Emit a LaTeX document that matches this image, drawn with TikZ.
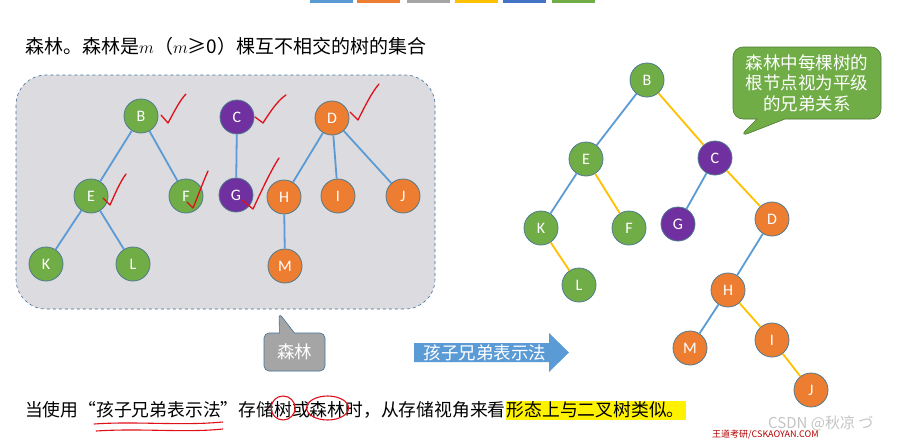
\documentclass[tikz,border=0pt]{standalone}
\usepackage{fontspec}
\setmainfont{Carlito}
\newfontfamily\cjk{Noto Sans CJK SC}
\usetikzlibrary{shapes.callouts}
\definecolor{barblue}{HTML}{5B9BD5}
\definecolor{barorange}{HTML}{ED7D31}
\definecolor{bargray}{HTML}{A5A5A5}
\definecolor{baryellow}{HTML}{FFC000}
\definecolor{bardblue}{HTML}{4472C4}
\definecolor{bargreen}{HTML}{70AD47}
\definecolor{npurple}{HTML}{7030A0}
\definecolor{nborder}{HTML}{4F7A8F}
\definecolor{boxfill}{HTML}{DCDBDF}
\definecolor{boxline}{HTML}{41719C}
\definecolor{inkred}{HTML}{E0101A}
\definecolor{wmgray}{HTML}{C4C4C4}
\tikzset{
  tnode/.style={circle, minimum size=34pt, inner sep=0pt, draw=nborder, line width=0.8pt,
     text=white, font=\fontsize{16}{16}\selectfont},
  gn/.style={tnode, fill=bargreen},
  pn/.style={tnode, fill=npurple},
  on/.style={tnode, fill=barorange},
  bl/.style={draw=barblue, line width=1.8pt},
  yl/.style={draw=baryellow, line width=1.8pt},
  tick/.style={draw=inkred, line width=1.3pt, line cap=round, line join=round},
  ink/.style={draw=inkred, line width=1.1pt, line cap=round},
  cjktext/.style={font=\cjk\fontsize{17.5}{21}\selectfont},
  seg/.style={font=\cjk\fontsize{17.8}{21}\selectfont, inner sep=0pt, outer sep=0pt, anchor=base west, text height=15pt, text depth=3pt}
}
\begin{document}
\begin{tikzpicture}[x=1pt,y=-1pt]
\useasboundingbox (0,0) rectangle (901,439);
\fill[white] (0,0) rectangle (901,439);
% top colour bars
\fill[barblue]   (310,0) rectangle (353,3);
\fill[barorange] (357,0) rectangle (400,3);
\fill[bargray]   (407,0) rectangle (450,3);
\fill[baryellow] (455,0) rectangle (498,3);
\fill[bardblue]  (503,0) rectangle (546,3);
\fill[bargreen]  (552,0) rectangle (595,3);
% title
\node[anchor=west, inner sep=0pt, font=\cjk\fontsize{19}{22}\selectfont] (title) at (25,46)
  {森林。森林是$m$（$m$≥0）棵互不相交的树的集合};
% forest box
\draw[fill=boxfill, draw=boxline, dashed, line width=0.6pt, rounded corners=30pt]
  (16,75) rectangle (435,309);
% left forest
\node[gn] (lB) at (141,116) {B};
\node[pn] (lC) at (237,117) {C};
\node[on] (lD) at (332,118) {D};
\node[gn] (lE) at (91,196) {E};
\node[gn] (lF) at (186,196) {F};
\node[pn] (lG) at (236,195) {G};
\node[on] (lH) at (284,197) {H};
\node[on] (lI) at (338,196) {I};
\node[on] (lJ) at (403,196) {J};
\node[gn] (lK) at (46,264) {K};
\node[gn] (lL) at (133,264) {L};
\node[on] (lM) at (285,266) {M};
\path[bl] (lB) -- (lE);
\path[bl] (lB) -- (lF);
\path[bl] (lE) -- (lK);
\path[bl] (lE) -- (lL);
\path[bl] (lC) -- (lG);
\path[bl] (lD) -- (lH);
\path[bl] (lD) -- (lI);
\path[bl] (lD) -- (lJ);
\path[bl] (lH) -- (lM);
% red ticks
\draw[tick] (161,115) -- (168,123) .. controls (174,112) and (180,100) .. (186,94);
\draw[tick] (255,117) -- (263,123) .. controls (270,112) and (278,100) .. (286,95);
\draw[tick] (350,112) -- (358,120) .. controls (365,106) and (372,92) .. (379,84);
\draw[tick] (103,198) -- (110,205) .. controls (115,194) and (120,182) .. (126,174);
\draw[tick] (187,202) -- (193,208) .. controls (198,196) and (203,182) .. (208,171);
\draw[tick] (242,200) -- (253,209) .. controls (261,192) and (270,172) .. (279,158);
% gray callout
\node[rectangle callout, fill=bargray, draw=boxline, line width=0.6pt, rounded corners=5pt,
  minimum width=61pt, minimum height=38pt, inner sep=0pt, text=white,
  callout absolute pointer={(279,313)}, callout pointer width=15pt, cjktext]
  (forestlabel) at (294.5,352) {森林};
% blue arrow
\coordinate (a1) at (414,343);
\coordinate (a2) at (549,343);
\coordinate (a3) at (549,333);
\coordinate (a4) at (569,352.5);
\coordinate (a5) at (549,372);
\coordinate (a6) at (549,362);
\coordinate (a7) at (414,362);
\fill[barblue] (a1) -- (a2) -- (a3) -- (a4) -- (a5) -- (a6) -- (a7) -- cycle;
\node[text=white, cjktext, inner sep=0pt] (arrowlabel) at (485,352.5) {孩子兄弟表示法};
% green callout
\node[rectangle callout, fill=bargreen, draw=bargreen!70!black, line width=0.6pt, rounded corners=10pt,
  minimum width=148pt, minimum height=72pt, inner sep=0pt, text=white, align=center,
  callout absolute pointer={(739,137)}, callout pointer width=28pt,
  font=\cjk\fontsize{17.5}{20.5}\selectfont]
  (note) at (807,83) {森林中每棵树的\\根节点视为平级\\的兄弟关系};
% right binary tree
\node[gn] (rB) at (647,80) {B};
\node[gn] (rE) at (586,159) {E};
\node[pn] (rC) at (715,158) {C};
\node[gn] (rK) at (541,228) {K};
\node[gn] (rF) at (629,228) {F};
\node[pn] (rG) at (678,224) {G};
\node[on] (rD) at (772,219) {D};
\node[gn] (rL) at (579,285) {L};
\node[on] (rH) at (728,290) {H};
\node[on] (rM) at (690,348) {M};
\node[on] (rI) at (772,340) {I};
\node[on] (rJ) at (811,390) {J};
\path[bl] (rB) -- (rE);
\path[yl] (rB) -- (rC);
\path[bl] (rE) -- (rK);
\path[yl] (rE) -- (rF);
\path[yl] (rK) -- (rL);
\path[bl] (rC) -- (rG);
\path[yl] (rC) -- (rD);
\path[bl] (rD) -- (rH);
\path[bl] (rH) -- (rM);
\path[yl] (rH) -- (rI);
\path[yl] (rI) -- (rJ);
% bottom sentence, set in segments
\node[seg] (s1) at (25,416) {当使用“};
\node[seg] (s2) at (s1.base east) {孩子兄弟表示法};
\node[seg] (s3) at (s2.base east) {”存储};
\node[seg] (s4) at (s3.base east) {树};
\node[seg] (s5) at (s4.base east) {或};
\node[seg] (s6) at (s5.base east) {森林};
\node[seg] (s7) at (s6.base east) {时，从存储视角来看};
\node[seg, fill=yellow, inner xsep=1pt, text depth=4pt] (s8) at (s7.base east) {形态上与二叉树类似。\hspace{9pt}};
% red annotations
\draw[ink] ([xshift=-2pt,yshift=-5pt]s2.south west) .. controls ([xshift=40pt,yshift=-2pt]s2.south west) and ([xshift=-40pt,yshift=-7pt]s2.south east) .. ([xshift=2pt,yshift=-3pt]s2.south east);
\draw[ink] ([yshift=-12pt]s2.south west) .. controls ([xshift=45pt,yshift=-9pt]s2.south west) and ([xshift=-35pt,yshift=-14pt]s2.south east) .. ([xshift=2pt,yshift=-10pt]s2.south east);
\draw[ink] ([yshift=2pt]s4.center) ellipse [x radius=12pt, y radius=12pt];
\draw[ink] ([yshift=2pt]s6.center) ellipse [x radius=21pt, y radius=12pt];
% watermark
\node[anchor=west, inner sep=0pt, text=wmgray, font=\cjk\fontsize{15}{18}\selectfont]
  (wm) at (768,423) {CSDN @秋凉 づ};
\node[anchor=west, inner sep=0pt, text=red!70!black, font=\cjk\fontsize{9}{10}\selectfont]
  (wm2) at (712,434) {王道考研/CSKAOYAN.COM};
\end{tikzpicture}
\end{document}
